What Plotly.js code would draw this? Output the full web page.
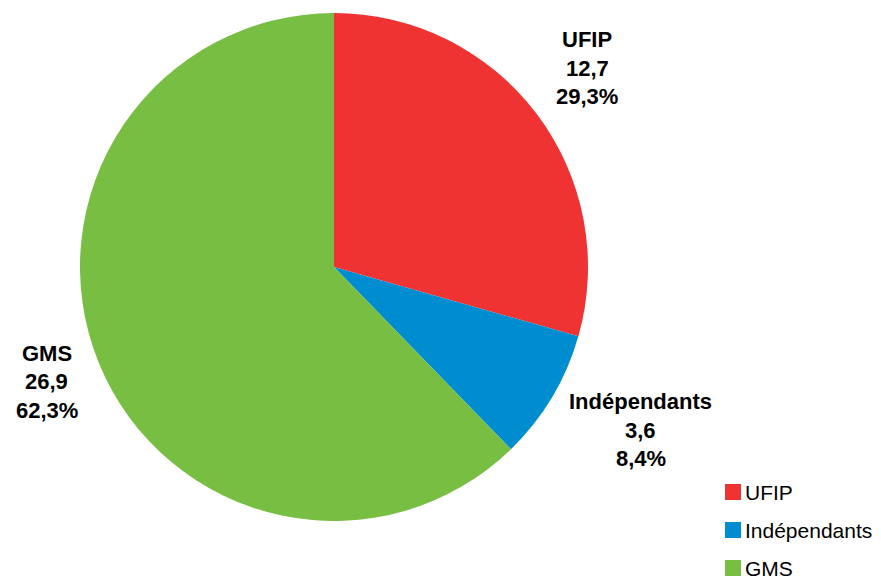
<!DOCTYPE html>
<html>
<head>
<meta charset="utf-8">
<script src="https://cdn.plot.ly/plotly-3.0.1.min.js"></script>
<style>html,body{margin:0;padding:0;background:#fff;}#chart{width:881px;height:580px;}</style>
</head>
<body>
<div id="chart"></div>
<script>
// Data
const categories = ["UFIP", "Indépendants", "GMS"];
const values = [12.7, 3.6, 26.9];
const valueLabels = ["12,7", "3,6", "26,9"];
const percentLabels = ["29,3%", "8,4%", "62,3%"];
const colors = ["#EF3332", "#008DD0", "#77BE43"];

// Layout constants (pixels)
const W = 881, H = 580;
const cx = 334, cy = 267, R = 254;
const labelDist = [1.265, 1.37, 1.22];
const labelNudge = [[-3, -5], [8, -15], [0, -2]];
const lineStep = 28.5;
const FONT = "'Liberation Sans', Arial, sans-serif";

const total = values.reduce((a, b) => a + b, 0);
let cum = 0;
const annotations = [];
values.forEach((v, i) => {
  const mid = (cum + v / 2) / total * 2 * Math.PI;
  cum += v;
  const px = cx + R * labelDist[i] * Math.sin(mid) + labelNudge[i][0];
  const py = cy - R * labelDist[i] * Math.cos(mid) + labelNudge[i][1];
  const lines = [categories[i], valueLabels[i], percentLabels[i]];
  lines.forEach((t, k) => {
    annotations.push({
      xref: "paper", yref: "paper",
      x: px / W, y: 1 - (py + (k - 1) * lineStep) / H,
      xanchor: "center", yanchor: "middle",
      showarrow: false, align: "center",
      text: "<b>" + t + "</b>",
      font: {family: FONT, size: 22, color: "#000000"}
    });
  });
});

// custom legend
const shapes = [];
const legX = 725, legY0 = 492, legGap = 38, sq = 16;
categories.forEach((c, i) => {
  const yc = legY0 + i * legGap;
  shapes.push({
    type: "rect", xref: "paper", yref: "paper",
    x0: legX / W, x1: (legX + sq) / W,
    y0: 1 - (yc + sq / 2) / H, y1: 1 - (yc - sq / 2) / H,
    fillcolor: colors[i], line: {width: 0}
  });
  annotations.push({
    xref: "paper", yref: "paper",
    x: (legX + sq + 2) / W, y: 1 - yc / H,
    xanchor: "left", yanchor: "middle", showarrow: false,
    text: c,
    font: {family: FONT, size: 21, color: "#000000"}
  });
});

const trace = {
  type: "pie",
  labels: categories,
  values: values,
  sort: false,
  direction: "clockwise",
  rotation: 0,
  textinfo: "none",
  hoverinfo: "label+value",
  marker: {colors: colors, line: {width: 0}},
  domain: {x: [(cx - R) / W, (cx + R) / W], y: [1 - (cy + R) / H, 1 - (cy - R) / H]},
  showlegend: false
};

const layout = {
  width: W, height: H,
  margin: {l: 0, r: 0, t: 0, b: 0},
  paper_bgcolor: "#ffffff",
  showlegend: false,
  annotations: annotations,
  shapes: shapes,
  font: {family: FONT}
};

Plotly.newPlot("chart", [trace], layout, {displayModeBar: false, staticPlot: true});
</script>
</body>
</html>
